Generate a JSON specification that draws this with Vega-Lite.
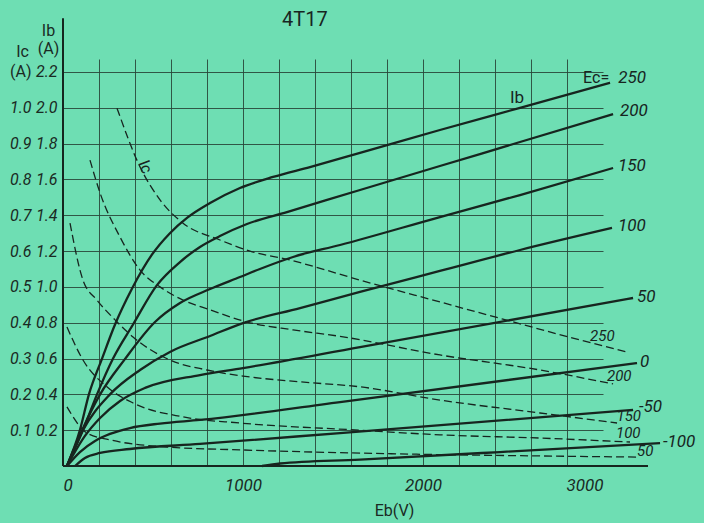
{
  "$schema": "https://vega.github.io/schema/vega-lite/v6.json",
  "width": 540,
  "height": 407,
  "autosize": {"type": "none"},
  "padding": {"left": 63, "top": 59, "right": 101, "bottom": 57},
  "background": "#6edeb3",
  "config": {
    "view": {"stroke": null},
    "font": "Roboto",
    "axis": {"labelColor": "#1a2a23", "titleColor": "#1a2a23", "labelFontSize": 16, "labelFontStyle": "italic", "labelFont": "Roboto", "titleFont": "Roboto", "titleFontWeight": "normal", "titleFontSize": 16, "gridColor": "#29473a", "gridWidth": 1, "gridOpacity": 0.9}
  },
  "datasets": {
    "ib": [
      {"Ec": "250", "Eb": 22, "Ib": 0}, {"Ec": "250", "Eb": 94, "Ib": 0.2}, {"Ec": "250", "Eb": 144, "Ib": 0.4}, {"Ec": "250", "Eb": 217, "Ib": 0.6}, {"Ec": "250", "Eb": 289, "Ib": 0.79}, {"Ec": "250", "Eb": 383, "Ib": 0.99}, {"Ec": "250", "Eb": 494, "Ib": 1.18}, {"Ec": "250", "Eb": 594, "Ib": 1.3}, {"Ec": "250", "Eb": 689, "Ib": 1.385}, {"Ec": "250", "Eb": 817, "Ib": 1.468}, {"Ec": "250", "Eb": 983, "Ib": 1.552}, {"Ec": "250", "Eb": 1167, "Ib": 1.614}, {"Ec": "250", "Eb": 1372, "Ib": 1.669}, {"Ec": "250", "Eb": 1650, "Ib": 1.748}, {"Ec": "250", "Eb": 2094, "Ib": 1.876}, {"Ec": "250", "Eb": 2539, "Ib": 2.0}, {"Ec": "250", "Eb": 3039, "Ib": 2.14},
      {"Ec": "200", "Eb": 22, "Ib": 0}, {"Ec": "200", "Eb": 111, "Ib": 0.2}, {"Ec": "200", "Eb": 189, "Ib": 0.4}, {"Ec": "200", "Eb": 278, "Ib": 0.6}, {"Ec": "200", "Eb": 389, "Ib": 0.79}, {"Ec": "200", "Eb": 522, "Ib": 1.01}, {"Ec": "200", "Eb": 650, "Ib": 1.139}, {"Ec": "200", "Eb": 761, "Ib": 1.223}, {"Ec": "200", "Eb": 872, "Ib": 1.284}, {"Ec": "200", "Eb": 1022, "Ib": 1.351}, {"Ec": "200", "Eb": 1244, "Ib": 1.418}, {"Ec": "200", "Eb": 1650, "Ib": 1.541}, {"Ec": "200", "Eb": 2094, "Ib": 1.675}, {"Ec": "200", "Eb": 2539, "Ib": 1.809}, {"Ec": "200", "Eb": 3056, "Ib": 1.965},
      {"Ec": "150", "Eb": 22, "Ib": 0}, {"Ec": "150", "Eb": 106, "Ib": 0.2}, {"Ec": "150", "Eb": 206, "Ib": 0.4}, {"Ec": "150", "Eb": 344, "Ib": 0.597}, {"Ec": "150", "Eb": 511, "Ib": 0.804}, {"Ec": "150", "Eb": 650, "Ib": 0.91}, {"Ec": "150", "Eb": 817, "Ib": 0.988}, {"Ec": "150", "Eb": 983, "Ib": 1.055}, {"Ec": "150", "Eb": 1094, "Ib": 1.1}, {"Ec": "150", "Eb": 1278, "Ib": 1.167}, {"Ec": "150", "Eb": 1539, "Ib": 1.234}, {"Ec": "150", "Eb": 2094, "Ib": 1.39}, {"Ec": "150", "Eb": 2539, "Ib": 1.513}, {"Ec": "150", "Eb": 3056, "Ib": 1.664},
      {"Ec": "100", "Eb": 22, "Ib": 0}, {"Ec": "100", "Eb": 111, "Ib": 0.2}, {"Ec": "100", "Eb": 261, "Ib": 0.4}, {"Ec": "100", "Eb": 428, "Ib": 0.536}, {"Ec": "100", "Eb": 594, "Ib": 0.637}, {"Ec": "100", "Eb": 817, "Ib": 0.726}, {"Ec": "100", "Eb": 1000, "Ib": 0.798}, {"Ec": "100", "Eb": 1317, "Ib": 0.882}, {"Ec": "100", "Eb": 1650, "Ib": 0.972}, {"Ec": "100", "Eb": 2094, "Ib": 1.089}, {"Ec": "100", "Eb": 2539, "Ib": 1.206}, {"Ec": "100", "Eb": 3050, "Ib": 1.329},
      {"Ec": "50", "Eb": 22, "Ib": 0}, {"Ec": "50", "Eb": 122, "Ib": 0.168}, {"Ec": "50", "Eb": 206, "Ib": 0.268}, {"Ec": "50", "Eb": 317, "Ib": 0.363}, {"Ec": "50", "Eb": 456, "Ib": 0.436}, {"Ec": "50", "Eb": 761, "Ib": 0.508}, {"Ec": "50", "Eb": 1000, "Ib": 0.547}, {"Ec": "50", "Eb": 1650, "Ib": 0.664}, {"Ec": "50", "Eb": 3167, "Ib": 0.938},
      {"Ec": "0", "Eb": 22, "Ib": 0}, {"Ec": "0", "Eb": 94, "Ib": 0.078}, {"Ec": "0", "Eb": 178, "Ib": 0.14}, {"Ec": "0", "Eb": 261, "Ib": 0.179}, {"Ec": "0", "Eb": 372, "Ib": 0.212}, {"Ec": "0", "Eb": 539, "Ib": 0.237}, {"Ec": "0", "Eb": 761, "Ib": 0.257}, {"Ec": "0", "Eb": 1539, "Ib": 0.357}, {"Ec": "0", "Eb": 3189, "Ib": 0.575},
      {"Ec": "-50", "Eb": 67, "Ib": 0}, {"Ec": "-50", "Eb": 122, "Ib": 0.045}, {"Ec": "-50", "Eb": 206, "Ib": 0.073}, {"Ec": "-50", "Eb": 372, "Ib": 0.095}, {"Ec": "-50", "Eb": 761, "Ib": 0.123}, {"Ec": "-50", "Eb": 1539, "Ib": 0.184}, {"Ec": "-50", "Eb": 3167, "Ib": 0.313},
      {"Ec": "-100", "Eb": 1106, "Ib": 0}, {"Ec": "-100", "Eb": 1206, "Ib": 0.014}, {"Ec": "-100", "Eb": 1650, "Ib": 0.036}, {"Ec": "-100", "Eb": 2428, "Ib": 0.078}, {"Ec": "-100", "Eb": 3317, "Ib": 0.128}
    ],
    "ic": [
      {"Ec": "250", "Eb": 300, "Ic": 0.999}, {"Ec": "250", "Eb": 428, "Ic": 0.835}, {"Ec": "250", "Eb": 539, "Ic": 0.743}, {"Ec": "250", "Eb": 667, "Ic": 0.678}, {"Ec": "250", "Eb": 872, "Ic": 0.631}, {"Ec": "250", "Eb": 1039, "Ic": 0.6}, {"Ec": "250", "Eb": 1261, "Ic": 0.575}, {"Ec": "250", "Eb": 1650, "Ic": 0.519}, {"Ec": "250", "Eb": 2094, "Ic": 0.458}, {"Ec": "250", "Eb": 2444, "Ic": 0.41}, {"Ec": "250", "Eb": 2833, "Ic": 0.357}, {"Ec": "250", "Eb": 3133, "Ic": 0.318},
      {"Ec": "200", "Eb": 150, "Ic": 0.854}, {"Ec": "200", "Eb": 206, "Ic": 0.762}, {"Ec": "200", "Eb": 317, "Ic": 0.639}, {"Ec": "200", "Eb": 428, "Ic": 0.547}, {"Ec": "200", "Eb": 539, "Ic": 0.5}, {"Ec": "200", "Eb": 667, "Ic": 0.463}, {"Ec": "200", "Eb": 817, "Ic": 0.436}, {"Ec": "200", "Eb": 1022, "Ic": 0.402}, {"Ec": "200", "Eb": 1278, "Ic": 0.38}, {"Ec": "200", "Eb": 1539, "Ic": 0.362}, {"Ec": "200", "Eb": 2094, "Ic": 0.31}, {"Ec": "200", "Eb": 2650, "Ic": 0.268}, {"Ec": "200", "Eb": 3056, "Ic": 0.229},
      {"Ec": "150", "Eb": 39, "Ic": 0.678}, {"Ec": "150", "Eb": 111, "Ic": 0.519}, {"Ec": "150", "Eb": 189, "Ic": 0.463}, {"Ec": "150", "Eb": 289, "Ic": 0.408}, {"Ec": "150", "Eb": 389, "Ic": 0.36}, {"Ec": "150", "Eb": 594, "Ic": 0.296}, {"Ec": "150", "Eb": 800, "Ic": 0.268}, {"Ec": "150", "Eb": 1000, "Ic": 0.251}, {"Ec": "150", "Eb": 1317, "Ic": 0.235}, {"Ec": "150", "Eb": 1650, "Ic": 0.221}, {"Ec": "150", "Eb": 2094, "Ic": 0.184}, {"Ec": "150", "Eb": 2650, "Ic": 0.148}, {"Ec": "150", "Eb": 3078, "Ic": 0.12},
      {"Ec": "100", "Eb": 22, "Ic": 0.388}, {"Ec": "100", "Eb": 111, "Ic": 0.296}, {"Ec": "100", "Eb": 244, "Ic": 0.221}, {"Ec": "100", "Eb": 389, "Ic": 0.176}, {"Ec": "100", "Eb": 667, "Ic": 0.137}, {"Ec": "100", "Eb": 983, "Ic": 0.12}, {"Ec": "100", "Eb": 1650, "Ic": 0.1}, {"Ec": "100", "Eb": 2094, "Ic": 0.087}, {"Ec": "100", "Eb": 2650, "Ic": 0.078}, {"Ec": "100", "Eb": 3150, "Ic": 0.067},
      {"Ec": "50", "Eb": 22, "Ic": 0.165}, {"Ec": "50", "Eb": 133, "Ic": 0.092}, {"Ec": "50", "Eb": 261, "Ic": 0.073}, {"Ec": "50", "Eb": 578, "Ic": 0.053}, {"Ec": "50", "Eb": 983, "Ic": 0.045}, {"Ec": "50", "Eb": 1650, "Ic": 0.036}, {"Ec": "50", "Eb": 2650, "Ic": 0.028}, {"Ec": "50", "Eb": 3189, "Ic": 0.025}
    ],
    "iblabels": [
      {"text": "250", "Eb": 3085, "Ib": 2.166}, {"text": "200", "Eb": 3094, "Ib": 1.982}, {"text": "150", "Eb": 3083, "Ib": 1.675}, {"text": "100", "Eb": 3083, "Ib": 1.34}, {"text": "50", "Eb": 3189, "Ib": 0.944}, {"text": "0", "Eb": 3206, "Ib": 0.581}, {"text": "-50", "Eb": 3200, "Ib": 0.33}, {"text": "-100", "Eb": 3333, "Ib": 0.134}
    ],
    "iclabels": [
      {"text": "250", "Eb": 2928, "Ic": 0.363}, {"text": "200", "Eb": 3022, "Ic": 0.251}, {"text": "150", "Eb": 3075, "Ic": 0.139}, {"text": "100", "Eb": 3072, "Ic": 0.093}, {"text": "50", "Eb": 3189, "Ic": 0.042}
    ]
  },
  "layer": [
    {
      "layer": [
        {
          "data": {"name": "ib"},
          "mark": {"type": "line", "interpolate": "monotone", "strokeWidth": 2.3, "color": "#17251f"},
          "encoding": {
            "x": {"field": "Eb", "type": "quantitative", "scale": {"domain": [0, 3000], "nice": false, "zero": false},
              "axis": {"orient": "bottom", "values": [0, 1000, 2000, 3000], "format": "d", "grid": false, "domain": false, "ticks": false, "labelPadding": 11, "labelFontSize": 17, "title": "Eb(V)", "titleFontStyle": "normal", "titleFontSize": 16, "titleX": 331, "titleY": 44, "titleAlign": "center", "titleBaseline": "middle"}},
            "y": {"field": "Ib", "type": "quantitative", "scale": {"domain": [0, 2.2725], "nice": false},
              "axis": {"orient": "left", "values": [0.2, 0.4, 0.6, 0.8, 1.0, 1.2, 1.4, 1.6, 1.8, 2.0, 2.2], "format": ".1f", "grid": true, "domain": false, "ticks": false, "labelPadding": 6, "title": ["Ib", "(A)"], "titleAngle": 0, "titleAlign": "center", "titleBaseline": "alphabetic", "titleX": -15, "titleY": -24, "titleLineHeight": 18}},
            "detail": {"field": "Ec"}
          }
        },
        {
          "data": {"name": "iblabels"},
          "mark": {"type": "text", "align": "left", "baseline": "middle", "fontSize": 17, "fontStyle": "italic", "color": "#17251f"},
          "encoding": {
            "x": {"field": "Eb", "type": "quantitative"},
            "y": {"field": "Ib", "type": "quantitative"},
            "text": {"field": "text"}
          }
        },
        {
          "data": {"values": [{}]},
          "mark": {"type": "text", "align": "center", "baseline": "middle", "fontSize": 16, "color": "#17251f"},
          "encoding": {"x": {"datum": 2962}, "y": {"datum": 2.165}, "text": {"value": "Ec="}}
        },
        {
          "data": {"values": [{}]},
          "mark": {"type": "text", "align": "center", "baseline": "middle", "fontSize": 17, "color": "#17251f"},
          "encoding": {"x": {"datum": 2522}, "y": {"datum": 2.055}, "text": {"value": "Ib"}}
        },
        {
          "data": {"values": [{}]},
          "mark": {"type": "text", "align": "center", "baseline": "middle", "fontSize": 20, "color": "#17251f"},
          "encoding": {"x": {"datum": 1344}, "y": {"datum": 2.49}, "text": {"value": "4T17"}}
        },
        {
          "data": {"values": [{}]},
          "mark": {"type": "rule", "color": "#17251f", "strokeWidth": 2},
          "encoding": {"x": {"datum": 0}, "y": {"datum": 0}, "y2": {"datum": 2.5}}
        },
        {
          "data": {"values": [{}]},
          "mark": {"type": "rule", "color": "#17251f", "strokeWidth": 2},
          "encoding": {"x": {"datum": 0}, "x2": {"datum": 3250}, "y": {"datum": 0}}
        }
      ]
    },
    {
      "layer": [
        {
          "data": {"name": "ic"},
          "mark": {"type": "line", "interpolate": "monotone", "strokeWidth": 1.3, "strokeDash": [8, 4], "color": "#17251f"},
          "encoding": {
            "x": {"field": "Eb", "type": "quantitative",
              "axis": {"orient": "bottom", "values": [200, 400, 600, 800, 1000, 1200, 1400, 1600, 1800, 2000, 2200, 2400, 2600, 2800], "grid": true, "labels": false, "ticks": false, "domain": false, "title": null}},
            "y": {"field": "Ic", "type": "quantitative", "scale": {"domain": [0, 1.13625], "nice": false},
              "axis": {"orient": "left", "offset": 27, "values": [0.1, 0.2, 0.3, 0.4, 0.5, 0.6, 0.7, 0.8, 0.9, 1.0, 1.1], "labelExpr": "datum.value > 1.05 ? '(A)' : format(datum.value, '.1f')", "labelFontStyle": {"condition": {"test": "datum.value > 1.05", "value": "normal"}, "value": "italic"}, "grid": false, "domain": false, "ticks": false, "labelPadding": 5, "title": "Ic", "titleAngle": 0, "titleAlign": "center", "titleBaseline": "alphabetic", "titleX": -14, "titleY": -3}},
            "detail": {"field": "Ec"}
          }
        },
        {
          "data": {"name": "iclabels"},
          "mark": {"type": "text", "align": "left", "baseline": "middle", "fontSize": 15, "fontStyle": "italic", "color": "#17251f"},
          "encoding": {
            "x": {"field": "Eb", "type": "quantitative"},
            "y": {"field": "Ic", "type": "quantitative"},
            "text": {"field": "text"}
          }
        },
        {
          "data": {"values": [{}]},
          "mark": {"type": "text", "align": "center", "baseline": "middle", "fontSize": 16, "angle": 69, "color": "#17251f"},
          "encoding": {"x": {"datum": 456}, "y": {"datum": 0.835}, "text": {"value": "Ic"}}
        }
      ]
    }
  ],
  "resolve": {"scale": {"y": "independent"}, "axis": {"x": "independent", "y": "independent"}}
}
